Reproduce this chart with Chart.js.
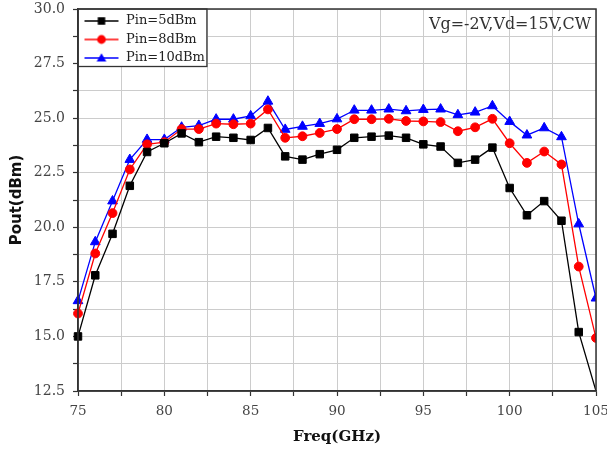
<!DOCTYPE html>
<html>
<head>
<meta charset="utf-8">
<script src="https://cdn.jsdelivr.net/npm/chart.js@4/dist/chart.umd.min.js"></script>
<style>
html,body{margin:0;padding:0;background:#fff;}
#wrap{width:607px;height:451px;position:relative;}
</style>
</head>
<body>
<div id="wrap"><canvas id="c" width="607" height="451"></canvas></div>
<script>
const freqs = [75,76,77,78,79,80,81,82,83,84,85,86,87,88,89,90,91,92,93,94,95,96,97,98,99,100,101,102,103,104,105];
const pin5  = [15.0,17.8,19.7,21.9,23.45,23.85,24.3,23.9,24.15,24.1,24.0,24.55,23.25,23.1,23.35,23.55,24.1,24.15,24.2,24.1,23.8,23.7,22.95,23.1,23.65,21.8,20.55,21.2,20.3,15.2,12.5];
const pin8  = [16.05,18.8,20.65,22.65,23.8,23.9,24.5,24.5,24.75,24.72,24.75,25.4,24.1,24.17,24.32,24.5,24.95,24.95,24.97,24.87,24.85,24.82,24.4,24.58,24.97,23.85,22.95,23.47,22.88,18.2,14.93];
const pin10 = [16.63,19.33,21.2,23.1,24.02,24.02,24.58,24.66,24.95,24.95,25.1,25.77,24.48,24.62,24.75,24.96,25.36,25.36,25.41,25.33,25.39,25.41,25.15,25.27,25.56,24.84,24.22,24.55,24.14,20.15,16.75];
const seriesNames = ['Pin=5dBm','Pin=8dBm','Pin=10dBm'];
const annotation = 'Vg=-2V,Vd=15V,CW';
const xTitle = 'Freq(GHz)';
const yTitle = 'Pout(dBm)';

const colors = ['#000000','#ff0000','#0000ff'];
const styles = ['rect','circle','triangle'];
const radii = [5.3,4.4,5.6];
const Y_MIN = 12.5, Y_MAX = 30;

function makeIcon(color, style, r){
  const cv = document.createElement('canvas');
  cv.width = 36; cv.height = 14;
  const g = cv.getContext('2d');
  g.strokeStyle = color; g.fillStyle = color; g.lineWidth = 1.3;
  g.beginPath(); g.moveTo(1,7); g.lineTo(35,7); g.stroke();
  g.beginPath();
  if(style==='rect'){ const s=r*Math.SQRT1_2; g.rect(18-s,7-s,2*s,2*s); }
  else if(style==='circle'){ g.arc(18,7,r,0,Math.PI*2); }
  else { for(let k=0;k<3;k++){ const a=-Math.PI/2+k*2*Math.PI/3; const px=18+r*Math.cos(a), py=7.8+r*Math.sin(a); k?g.lineTo(px,py):g.moveTo(px,py);} g.closePath(); }
  g.fill();
  return cv;
}
const icons = colors.map((c,i)=>makeIcon(c,styles[i],radii[i]));

const allSeries = [pin5,pin8,pin10];
const datasets = allSeries.map((vals,i)=>({
  label: seriesNames[i],
  data: freqs.map((f,j)=>({x:f,y:vals[j]})),
  borderColor: colors[i],
  backgroundColor: colors[i],
  borderWidth: 1.3,
  pointStyle: styles[i],
  pointRadius: (ctx)=> (ctx.raw && ctx.raw.y <= Y_MIN ? 0 : radii[i]),
  pointBorderWidth: 1,
  pointBackgroundColor: colors[i],
  pointBorderColor: colors[i],
  tension: 0,
  clip: {left: 10, top: 0, right: 0, bottom: 0}
}));

const isMultiple = (v, step) => Math.abs(v/step - Math.round(v/step)) < 1e-6;

const framePlugin = {
  id: 'frame',
  afterLayout(chart){
    const lg = chart.legend, ca = chart.chartArea;
    if(lg){ lg.top = ca.top; lg.bottom = ca.bottom; }
  },
  beforeDraw(chart){
    const lg = chart.legend;
    if(lg && !lg._boxWrapped){
      const orig = lg.draw.bind(lg);
      lg.draw = function(){
        const hb = this.legendHitBoxes || [];
        if(hb.length){
          const ca = chart.chartArea;
          let r = -Infinity, b = -Infinity;
          hb.forEach(h=>{ r=Math.max(r,h.left+h.width); b=Math.max(b,h.top+h.height); });
          const ctx = chart.ctx;
          ctx.save();
          ctx.fillStyle = '#ffffff';
          ctx.fillRect(ca.left, ca.top, r + 2 - ca.left, b + 2 - ca.top);
          ctx.strokeStyle = '#333333'; ctx.lineWidth = 1.3;
          ctx.strokeRect(ca.left, ca.top, r + 2 - ca.left, b + 2 - ca.top);
          ctx.restore();
        }
        orig();
      };
      lg._boxWrapped = true;
    }
  },
  afterDraw(chart){
    const ca = chart.chartArea, ctx = chart.ctx;
    ctx.save();
    ctx.strokeStyle = '#333333'; ctx.lineWidth = 1.5;
    ctx.strokeRect(ca.left, ca.top, ca.right - ca.left, ca.bottom - ca.top);
    let fs = 16;
    ctx.font = fs + 'px "DejaVu Serif"';
    const w = ctx.measureText(annotation).width;
    fs = fs * 162 / w;
    ctx.font = fs.toFixed(2) + 'px "DejaVu Serif"';
    ctx.fillStyle = '#333333';
    ctx.textAlign = 'right'; ctx.textBaseline = 'middle';
    ctx.fillText(annotation, ca.right - 5, ca.top + 16);
    ctx.restore();
  }
};

new Chart(document.getElementById('c'), {
  type: 'line',
  data: { datasets },
  plugins: [framePlugin],
  options: {
    responsive: false,
    animation: false,
    layout: { padding: { left: 0, top: 9, right: 11, bottom: 0 } },
    plugins: {
      legend: {
        position: 'chartArea',
        align: 'start',
        labels: {
          usePointStyle: true,
          pointStyleWidth: 36,
          boxHeight: 13,
          padding: 5.5,
          color: '#222222',
          font: { family: 'DejaVu Serif', size: 13 },
          generateLabels(chart){
            const items = Chart.defaults.plugins.legend.labels.generateLabels(chart);
            items.forEach((it,i)=>{ it.pointStyle = icons[i]; it.fontColor = '#222222'; });
            return items;
          }
        }
      },
      tooltip: { enabled: false }
    },
    scales: {
      x: {
        type: 'linear',
        min: 75, max: 105,
        afterFit(scale){ scale.height = 60; scale.paddingLeft = 0; scale.paddingRight = 0; },
        ticks: {
          stepSize: 2.5, autoSkip: false, maxRotation: 0,
          color: '#444444', padding: 7,
          font: { family: 'DejaVu Serif', size: 13.5 },
          callback: (v)=> isMultiple(v,5) ? String(v) : ''
        },
        grid: { color: '#cccccc', lineWidth: 1, tickLength: 5, tickColor: '#333333', tickWidth: 1.2 },
        border: { color: '#333333', width: 1.5 },
        title: { display: true, text: xTitle, color: '#111111', padding: { top: 0, bottom: 5 },
                 font: { family: 'DejaVu Serif', size: 15, weight: 'bold' } }
      },
      y: {
        type: 'linear',
        min: Y_MIN, max: Y_MAX,
        afterFit(scale){ scale.width = 78; scale.paddingTop = 0; scale.paddingBottom = 0; },
        ticks: {
          stepSize: 1.25, autoSkip: false,
          color: '#444444', padding: 8,
          font: { family: 'DejaVu Serif', size: 14 },
          callback: (v)=> isMultiple(v,2.5) ? v.toFixed(1) : ''
        },
        grid: { color: '#cccccc', lineWidth: 1, tickLength: 5, tickColor: '#333333', tickWidth: 1.2 },
        border: { color: '#333333', width: 1.5 },
        title: { display: true, text: yTitle, color: '#111111', padding: { top: 8, bottom: 0 },
                 font: { family: 'DejaVu Sans', size: 15, weight: 'bold' } }
      }
    }
  }
});
</script>
</body>
</html>
